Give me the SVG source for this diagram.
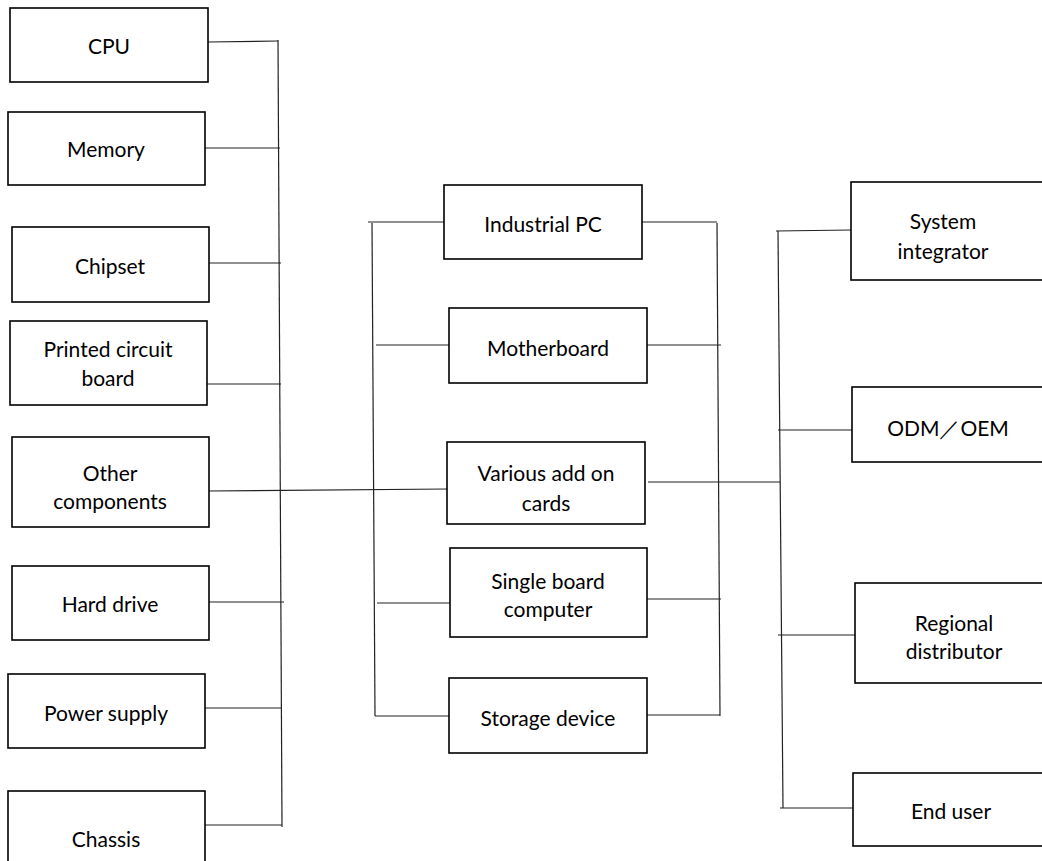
<svg xmlns="http://www.w3.org/2000/svg" width="1042" height="861" viewBox="0 0 1042 861">
<style>
.box{fill:#fff;stroke:#000;stroke-width:1.6}
.t{font-family:Lato,"Open Sans","Liberation Sans",sans-serif;font-size:21px;fill:#000;text-anchor:middle;dominant-baseline:central}
.c{stroke:#222;stroke-width:1.2;fill:none}
</style>
<rect width="1042" height="861" fill="#fff"/>
<g id="connectors">
<path class="c" d="M278 40 L282 827"/>
<path class="c" d="M208 42 L278 41"/>
<path class="c" d="M205 148 L280 148"/>
<path class="c" d="M209 263 L281 263"/>
<path class="c" d="M207 384 L281 384"/>
<path class="c" d="M209 491 L448 489"/>
<path class="c" d="M209 602 L284 602"/>
<path class="c" d="M205 708 L282 708"/>
<path class="c" d="M205 825 L282 825"/>
<path class="c" d="M372 223 L375 716"/>
<path class="c" d="M368 222 L444 222"/>
<path class="c" d="M376 345 L449 345"/>
<path class="c" d="M377 603 L450 603"/>
<path class="c" d="M375 716 L449 716"/>
<path class="c" d="M717 223 L720 716"/>
<path class="c" d="M642 222 L717 222"/>
<path class="c" d="M647 345 L721 345"/>
<path class="c" d="M645 599 L721 599"/>
<path class="c" d="M644 715 L720 715"/>
<path class="c" d="M648 482 L780 482"/>
<path class="c" d="M778 231 L783 808"/>
<path class="c" d="M776 231 L851 230"/>
<path class="c" d="M778 430 L852 430"/>
<path class="c" d="M778 635 L855 635"/>
<path class="c" d="M780 808 L853 808"/>
</g>
<g id="cpu"><rect class="box" x="10" y="8" width="198" height="74"/><text class="t" x="109" y="45">CPU</text></g>
<g id="memory"><rect class="box" x="8" y="112" width="197" height="73"/><text class="t" x="106" y="148">Memory</text></g>
<g id="chipset"><rect class="box" x="12" y="227" width="197" height="75"/><text class="t" x="110" y="265">Chipset</text></g>
<g id="pcb"><rect class="box" x="10" y="321" width="197" height="84"/><text class="t" x="108" y="348">Printed circuit</text><text class="t" x="108" y="377">board</text></g>
<g id="other"><rect class="box" x="12" y="437" width="197" height="90"/><text class="t" x="110" y="472">Other</text><text class="t" x="110" y="500">components</text></g>
<g id="harddrive"><rect class="box" x="12" y="566" width="197" height="74"/><text class="t" x="110" y="603">Hard drive</text></g>
<g id="power"><rect class="box" x="8" y="674" width="197" height="74"/><text class="t" x="106" y="712">Power supply</text></g>
<g id="chassis"><rect class="box" x="8" y="791" width="197" height="90"/><text class="t" x="106" y="838">Chassis</text></g>
<g id="ipc"><rect class="box" x="444" y="185" width="198" height="74"/><text class="t" x="543" y="223">Industrial PC</text></g>
<g id="motherboard"><rect class="box" x="449" y="308" width="198" height="75"/><text class="t" x="548" y="347">Motherboard</text></g>
<g id="addon"><rect class="box" x="447" y="442" width="198" height="82"/><text class="t" x="546" y="472">Various add on</text><text class="t" x="546" y="502">cards</text></g>
<g id="sbc"><rect class="box" x="450" y="548" width="197" height="89"/><text class="t" x="548" y="580">Single board</text><text class="t" x="548" y="608">computer</text></g>
<g id="storage"><rect class="box" x="449" y="678" width="198" height="75"/><text class="t" x="548" y="717">Storage device</text></g>
<g id="si"><rect class="box" x="851" y="182" width="200" height="98"/><text class="t" x="943" y="220">System</text><text class="t" x="943" y="250">integrator</text></g>
<g id="odm"><rect class="box" x="852" y="387" width="200" height="75"/><text class="t" x="948" y="427">ODM／OEM</text></g>
<g id="rd"><rect class="box" x="855" y="583" width="200" height="100"/><text class="t" x="954" y="622">Regional</text><text class="t" x="954" y="650">distributor</text></g>
<g id="enduser"><rect class="box" x="853" y="773" width="200" height="73"/><text class="t" x="951" y="810">End user</text></g>
</svg>
